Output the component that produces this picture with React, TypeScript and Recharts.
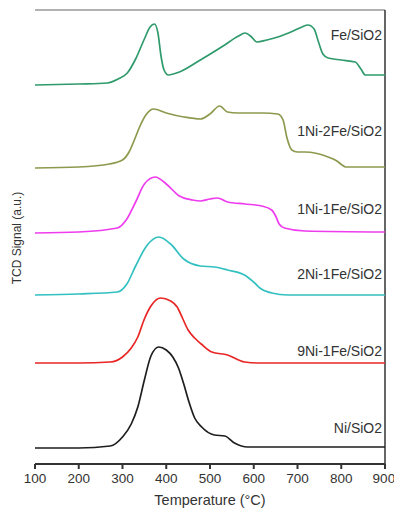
import { LineChart, Line, XAxis, YAxis, ReferenceLine } from "recharts";

// TPR profiles: [temperature °C, stacked TCD signal (a.u.)]
const feSio2 = [
  [100, 379], [200, 380], [265, 381], [290, 385], [311, 391], [330, 405], [350, 425],
  [363, 437], [373, 440], [381, 431], [388, 408], [395, 394], [405, 389], [430, 392],
  [478, 404], [530, 418], [565, 428], [580, 431], [595, 427], [607, 422], [630, 424],
  [655, 427], [690, 433], [710, 437], [724, 439], [738, 435], [748, 422], [758, 410],
  [770, 406], [800, 404], [832, 402], [845, 395], [855, 389], [900, 389],
];
const ni1fe2 = [
  [100, 296], [200, 297], [270, 300], [300, 304], [315, 312], [328, 325], [340, 338],
  [355, 350], [371, 355], [400, 351], [440, 347], [478, 345], [500, 350], [522, 358],
  [540, 352], [563, 351], [620, 351], [655, 350], [667, 344], [676, 326], [687, 314],
  [700, 312], [717, 312], [770, 307], [790, 303], [802, 299], [810, 297], [900, 297],
];
const ni1fe1 = [
  [100, 231], [200, 232], [288, 236], [310, 245], [330, 262], [350, 280], [375, 287],
  [400, 280], [430, 268], [460, 264], [478, 263], [500, 265], [517, 266], [540, 262],
  [580, 260], [618, 258], [641, 254], [650, 248], [658, 240], [670, 236], [717, 233],
  [900, 232],
];
const ni2fe1 = [
  [100, 169], [200, 170], [288, 172], [310, 180], [330, 198], [355, 218], [383, 227],
  [410, 220], [440, 205], [478, 198], [510, 197], [540, 194], [579, 189], [602, 181],
  [614, 176], [641, 171], [678, 169], [900, 169],
];
const ni9fe1 = [
  [100, 101], [200, 101], [272, 102], [300, 107], [320, 116], [335, 127], [350, 145],
  [365, 158], [387, 166], [410, 163], [425, 157], [437, 146], [450, 134], [465, 126],
  [480, 120], [504, 112], [540, 109], [579, 102], [609, 101], [900, 101],
];
const niSio2 = [
  [100, 16], [200, 16], [272, 18], [300, 27], [320, 40], [335, 57], [350, 84],
  [365, 108], [383, 117], [400, 114], [415, 107], [428, 96], [440, 80], [452, 62],
  [465, 46], [481, 37], [510, 29], [534, 28], [556, 21], [586, 17], [900, 17],
];

const tempTicks = [100, 200, 300, 400, 500, 600, 700, 800, 900];

const SERIES = [
  { name: "Fe/SiO2", data: feSio2, color: "#2f9a6c", top: 27 },
  { name: "1Ni-2Fe/SiO2", data: ni1fe2, color: "#8c9a4e", top: 123 },
  { name: "1Ni-1Fe/SiO2", data: ni1fe1, color: "#ee3cee", top: 201 },
  { name: "2Ni-1Fe/SiO2", data: ni2fe1, color: "#33c0c0", top: 266 },
  { name: "9Ni-1Fe/SiO2", data: ni9fe1, color: "#e82626", top: 343 },
  { name: "Ni/SiO2", data: niSio2, color: "#1e1e1e", top: 420 },
];

const toPoints = (rows: number[][]) => rows.map(([t, v]) => ({ t, v }));

export default function App() {
  const font = "'Liberation Sans', Arial, sans-serif";
  return (
    <div style={{ position: "absolute", left: 0, top: 0, width: 394, height: 508, background: "#fff", fontFamily: font }}>
      <LineChart width={394} height={508} margin={{ top: 10, right: 9, left: 35, bottom: 0 }}>
        <XAxis
          dataKey="t"
          type="number"
          domain={[100, 900]}
          ticks={tempTicks}
          allowDuplicatedCategory={false}
          height={44}
          tickSize={5}
          tickMargin={4}
          stroke="#333"
          strokeWidth={2}
          tick={{ fill: "#333", fontSize: 13.5, fontFamily: font }}
          label={{ value: "Temperature (°C)", position: "insideBottom", offset: 3, fill: "#333", fontSize: 14.5, fontFamily: font }}
        />
        <YAxis
          type="number"
          domain={[0, 454]}
          width={0}
          tick={false}
          tickLine={false}
          stroke="#333"
          strokeWidth={2}
        />
        <ReferenceLine y={454} stroke="#999" strokeWidth={1.5} ifOverflow="visible" />
        <ReferenceLine x={900} stroke="#333" strokeWidth={1.5} ifOverflow="visible" />
        {SERIES.map((s) => (
          <Line
            key={s.name}
            data={toPoints(s.data)}
            dataKey="v"
            type="monotone"
            stroke={s.color}
            strokeWidth={1.7}
            dot={false}
            isAnimationActive={false}
          />
        ))}
      </LineChart>
      {SERIES.map((s) => (
        <div
          key={s.name}
          style={{ position: "absolute", right: 12, top: s.top, fontSize: 14, color: "#333", lineHeight: "16px" }}
        >
          {s.name}
        </div>
      ))}
      <div
        style={{
          position: "absolute",
          left: 17,
          top: 238,
          transform: "translate(-50%, -50%) rotate(-90deg)",
          whiteSpace: "nowrap",
          fontSize: 12,
          color: "#333",
        }}
      >
        TCD Signal (a.u.)
      </div>
    </div>
  );
}
